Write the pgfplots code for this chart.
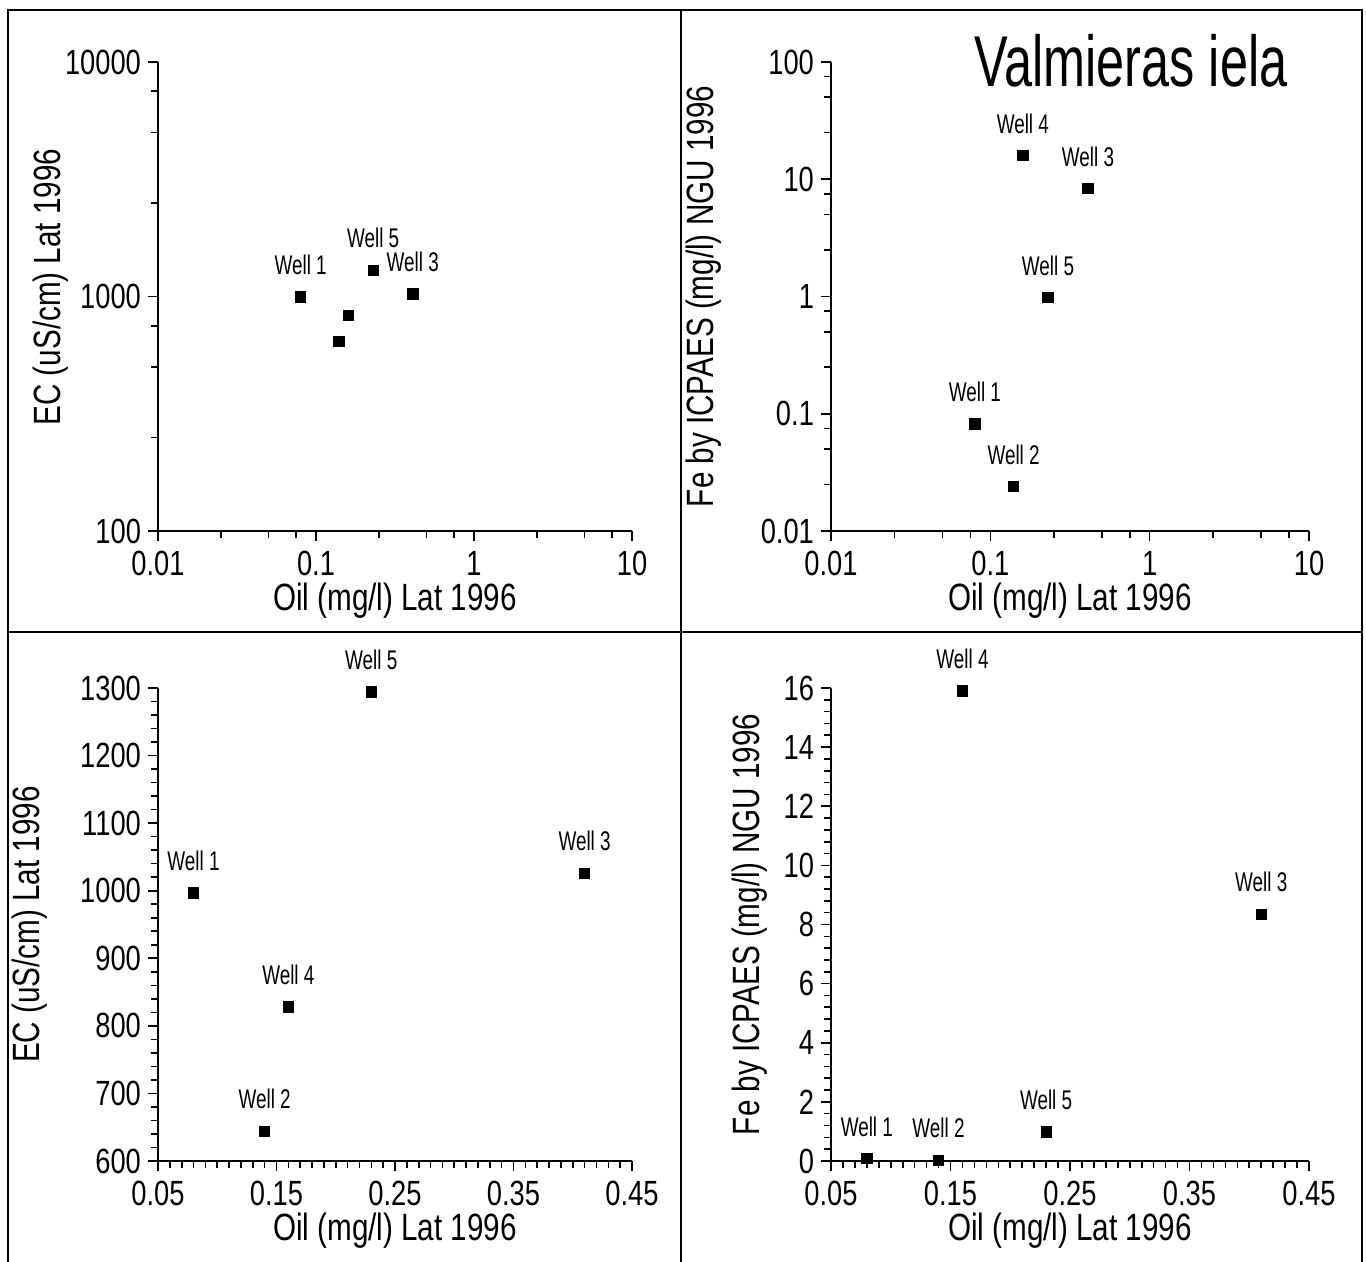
\documentclass[border=0pt]{standalone}
\usepackage{pgfplots}
\pgfplotsset{compat=1.18}
\usepackage{fontspec}
\setmainfont{Liberation Sans}[FakeStretch=0.78]
\newfontfamily\narrowfont{Liberation Sans}[FakeStretch=0.70]

\pgfplotstableread{
oil   ec    fe
0.08  997   0.082
0.14  644   0.024
0.41  1026  8.35
0.16  828   15.9
0.23  1294  0.98
}\wells

\tikzset{wl/.style={font=\narrowfont\fontsize{13.5}{15}\selectfont, yshift=16pt, anchor=center}}

\pgfplotsset{
  panel/.style={
    scale only axis, clip=false,
    anchor=south west,
    axis x line*=bottom, axis y line*=left,
    tick align=outside,
    major tick length=5pt, minor tick length=3.5pt,
    every tick/.style={black, line width=0.8pt},
    axis line style={line width=1pt},
    tick label style={font=\fontsize{17.5}{20}\selectfont},
    xticklabel style={yshift=-1.5pt},
    label style={font=\fontsize{19}{22}\selectfont},
    /pgf/number format/assume math mode=true,
    xlabel={Oil (mg/l) Lat 1996},
    xlabel style={at={(axis description cs:0.5,0)}, anchor=center, yshift=-35pt},
  },
  logxticks/.style={
    xmin=0.01, xmax=10,
    xtick={0.01,0.1,1,10}, xticklabels={0.01,0.1,1,10},
    minor xtick={0.025,0.05,0.075,0.25,0.5,0.75,2.5,5,7.5},
  },
  linx/.style={
    xmin=0.05, xmax=0.45,
    xtick={0.05,0.15,0.25,0.35,0.45},
    xticklabels={0.05,0.15,0.25,0.35,0.45},
    minor x tick num=9,
  },
  pts/.style={only marks, mark=square*, mark size=2.6pt, black},
}

\begin{document}
\begin{tikzpicture}
\useasboundingbox (0,0) rectangle (683pt,631pt);
% frame
\draw[line width=1pt] (4pt,0) -- (4pt,626pt) -- (681pt,626pt) -- (681pt,0);
\draw[line width=1pt] (340.5pt,0) -- (340.5pt,626pt);
\draw[line width=1pt] (4pt,315pt) -- (681pt,315pt);

% top-left
\begin{axis}[xmode=log, ymode=log, panel, logxticks, at={(79pt,365.5pt)}, width=237pt, height=234.5pt,
  ymin=100, ymax=10000,
  ytick={100,1000,10000}, yticklabels={100,1000,10000},
  minor ytick={250,500,750,2500,5000,7500},
  ylabel={EC (uS/cm) Lat 1996},
  ylabel style={at={(axis description cs:-0.227,0.52)}, anchor=center},
]
\addplot[pts] table[x=oil, y=ec] {\wells};
\node[wl] at (axis cs:0.08,997) {Well 1};
\node[wl] at (axis cs:0.23,1294) {Well 5};
\node[wl] at (axis cs:0.41,1026) {Well 3};
\end{axis}

% top-right
\begin{axis}[xmode=log, ymode=log, panel, logxticks, at={(415.5pt,365.5pt)}, width=239pt, height=234.5pt,
  ymin=0.01, ymax=100,
  ytick={0.01,0.1,1,10,100}, yticklabels={0.01,0.1,1,10,100},
  minor ytick={0.025,0.05,0.075,0.25,0.5,0.75,2.5,5,7.5,25,50,75},
  ylabel={Fe by ICPAES (mg/l) NGU 1996},
  ylabel style={at={(axis description cs:-0.267,0.5)}, anchor=center},
]
\addplot[pts] table[x=oil, y=fe] {\wells};
\node[wl] at (axis cs:0.08,0.082) {Well 1};
\node[wl] at (axis cs:0.14,0.024) {Well 2};
\node[wl] at (axis cs:0.41,8.35) {Well 3};
\node[wl] at (axis cs:0.16,15.9) {Well 4};
\node[wl] at (axis cs:0.23,0.98) {Well 5};
\end{axis}
\node[font=\narrowfont\fontsize{36}{40}\selectfont, anchor=base, inner sep=0pt] at (565.5pt,587.5pt) {Valmieras iela};

% bottom-left
\begin{axis}[panel, linx, at={(79pt,50.5pt)}, width=237pt, height=236.5pt,
  ymin=600, ymax=1300, ytick={600,700,...,1300},
  yticklabels={600,700,800,900,1000,1100,1200,1300},
  minor y tick num=4,
  ylabel={EC (uS/cm) Lat 1996},
  ylabel style={at={(axis description cs:-0.27,0.5)}, anchor=center},
]
\addplot[pts] table[x=oil, y=ec] {\wells};
\node[wl] at (axis cs:0.08,997) {Well 1};
\node[wl] at (axis cs:0.14,644) {Well 2};
\node[wl] at (axis cs:0.41,1026) {Well 3};
\node[wl] at (axis cs:0.16,828) {Well 4};
\node[wl] at (axis cs:0.23,1294) {Well 5};
\end{axis}

% bottom-right
\begin{axis}[panel, linx, at={(415.5pt,50.5pt)}, width=239pt, height=236.5pt,
  ymin=0, ymax=16, ytick={0,2,...,16},
  yticklabels={0,2,4,6,8,10,12,14,16},
  minor y tick num=4,
  ylabel={Fe by ICPAES (mg/l) NGU 1996},
  ylabel style={at={(axis description cs:-0.17,0.5)}, anchor=center},
]
\addplot[pts] table[x=oil, y=fe] {\wells};
\node[wl] at (axis cs:0.08,0.082) {Well 1};
\node[wl] at (axis cs:0.14,0.024) {Well 2};
\node[wl] at (axis cs:0.41,8.35) {Well 3};
\node[wl] at (axis cs:0.16,15.9) {Well 4};
\node[wl] at (axis cs:0.23,0.98) {Well 5};
\end{axis}
\end{tikzpicture}
\end{document}
